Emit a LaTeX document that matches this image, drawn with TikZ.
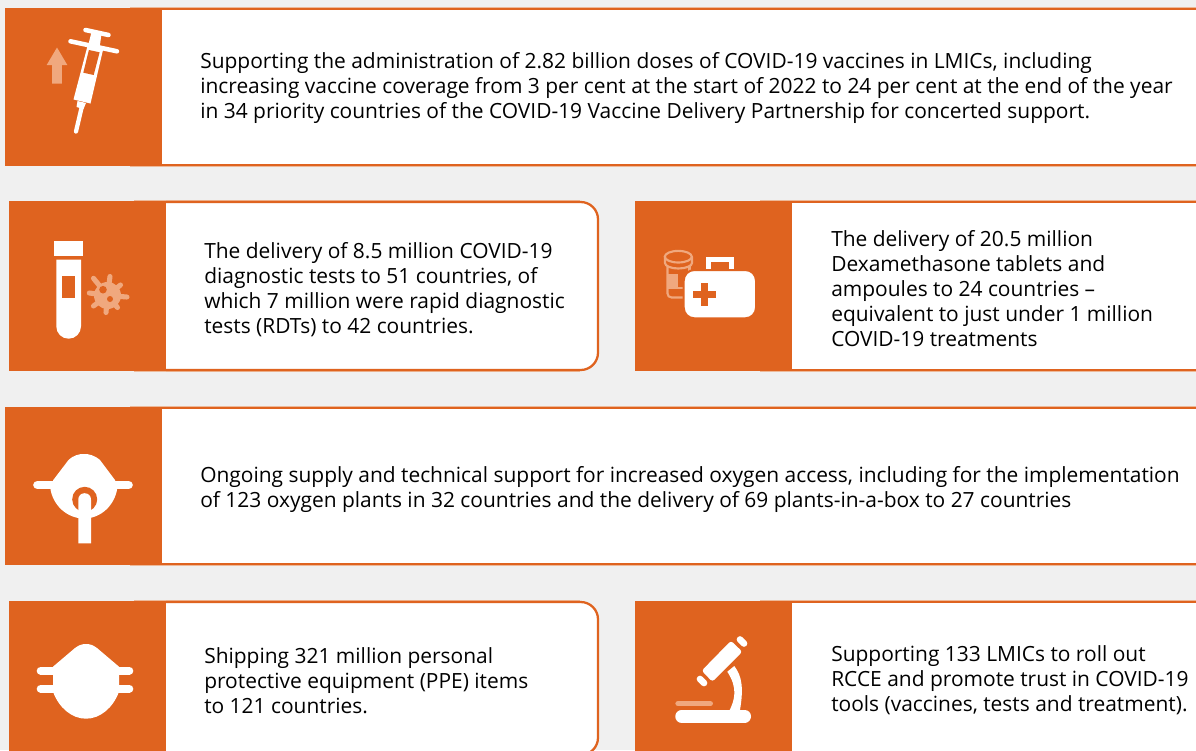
\documentclass[tikz,border=0pt]{standalone}
\usepackage{fontspec}
\setmainfont{Open Sans}
\definecolor{bg}{HTML}{F0F0F0}
\definecolor{org}{HTML}{DF631F}
\definecolor{lorg}{HTML}{F0A87E}
\definecolor{sha}{HTML}{EDB999}
\tikzset{
  cardtext/.style={anchor=west,align=left,inner sep=0pt,text=black,font=\fontsize{15.7}{18.75}\selectfont},
  whiteline/.style={draw=white,line cap=round},
  lightline/.style={draw=lorg,line cap=round},
}
\newcommand{\cardopen}[3]{% left square x, top, bottom
  \pgfmathsetmacro{\xa}{#1+125}\pgfmathsetmacro{\xb}{#1+157}
  \draw[sha,line width=1.3pt] (\xa,#2-0.6)--(1200,#2-0.6) (\xa,#3+0.6)--(1200,#3+0.6);
  \fill[white] (\xb,#2+1) rectangle (1200,#3-1);
  \draw[org,line width=1.6pt] (\xb,#2+1)--(1200,#2+1) (\xb,#3-1)--(1200,#3-1);
  \fill[org] (#1,#2) rectangle (\xb,#3);
}
\newcommand{\cardround}[4]{% left, top, bottom of frame, bottom of square
  \pgfmathsetmacro{\xa}{#1+125}\pgfmathsetmacro{\xb}{#1+157}
  \draw[sha,line width=1.3pt] (\xa,#2-0.6)--(580,#2-0.6);
  \draw[sha,line width=1.3pt] (\xa,#3+0.6)--(580,#3+0.6);
  \draw[org,line width=1.7pt,fill=white,rounded corners=13pt] (\xb,#2+1) -- (598,#2+1) -- (598,#3-1) -- (\xb,#3-1);
  \fill[org] (#1,#2) rectangle (\xb,#4);
}
\begin{document}
\begin{tikzpicture}[x=0.75pt,y=-0.75pt]
\useasboundingbox (0,0) rectangle (1196,750);
\clip (0,0) rectangle (1196,750);
\fill[bg] (0,0) rectangle (1196,750);

\cardopen{5}{8}{166}
\cardround{9}{201}{371}{371}
\cardopen{635}{201}{371}
\cardopen{5}{407}{565}
\cardround{9}{601}{756}{771}
\cardopen{635}{601}{771}

% syringe
\fill[lorg] (57,47.5)--(67.3,65)--(61.8,65)--(61.8,83.5)--(52,83.5)--(52,65)--(46.7,65)--cycle;
\draw[whiteline,line width=3.4pt] (85.5,30)--(108.5,35);
\draw[whiteline,line width=3.4pt] (70.5,41.3)--(117,51.3);
\fill[white] (91.5,32)--(101.5,34)--(99.5,48)--(88,46)--cycle;
\fill[white] (87.5,46)--(103,50)--(90.5,103.5)--(73.5,99.5)--cycle;
\fill[org] (88.9,50)--(99.6,52.3)--(93.7,75)--(83.3,72.7)--cycle;
\fill[white] (77.5,101)--(86,103)--(83.5,109)--(76.5,107)--cycle;
\draw[whiteline,line width=3.2pt] (81.5,108)--(76,131.5);

% tube + virus
\fill[white] (54,241) rectangle (83,256);
\fill[white] (56.3,259.7)--(81,259.7)--(81,326.3) .. controls (81,333.3) and (75.5,338.7) .. (68.65,338.7) .. controls (61.8,338.7) and (56.3,333.3) .. (56.3,326.3) --cycle;
\fill[org] (62.3,276) rectangle (74.7,298.3);
\fill[lorg] (107.5,295.5) circle[radius=13.5];
\draw[lightline,line width=3.8pt] (107.5,295.5)--(93.5,278.3) (107.5,295.5)--(110,276.5) (107.5,295.5)--(120.5,285) (107.5,295.5)--(127,297) (107.5,295.5)--(117.5,307.5) (107.5,295.5)--(106,312.5) (107.5,295.5)--(93.5,306) (107.5,295.5)--(89.3,293);
\fill[org] (103,289.7) circle[radius=3.8] (110,299) circle[radius=3];

% medicine
\draw[lorg,line width=1.6pt] (678.3,256.7) ellipse[x radius=13.5,y radius=5.8];
\draw[lorg,line width=1.6pt] (665,256.7)--(665,263) .. controls (665,266) and (671,268.5) .. (678.3,268.5) .. controls (685.6,268.5) and (692,266) .. (692,263) -- (692,256.7);
\draw[lorg,line width=1.6pt,rounded corners=3pt] (667.5,266)--(667.5,297.5)--(690,297.5);
\draw[lorg,line width=1.6pt] (689.5,266)--(689.5,272);
\fill[lorg] (668,273.5) rectangle (678,288);
\draw[lorg,line width=1.6pt] (667.5,288)--(684,288);
\fill[white] (706,257.3) rectangle (734,275);
\fill[org] (711,262.3) rectangle (728.7,275);
\draw[org,line width=1.5pt,fill=white,rounded corners=8pt] (683.7,270) rectangle (756,318.3);
\fill[org] (693.2,290.9) rectangle (716.2,297.7);
\fill[org] (701.3,282.8) rectangle (708.1,305.8);

% oxygen mask
\draw[whiteline,line width=6.5pt] (37.5,485)--(128.5,485);
\fill[white] (53.3,480) -- (68.5,460) .. controls (74,455) and (79,454) .. (84,454) .. controls (89,454) and (94,455) .. (100,460) -- (115,480) -- (117.3,488) .. controls (115,505) and (101,518.5) .. (84,518.5) .. controls (67,518.5) and (52.5,505) .. (50.3,488) -- cycle;
\fill[org] (84.7,499.3) circle[radius=12.5];
\fill[white] (78.3,543.3)--(78.3,499.5) .. controls (78.3,495.8) and (81,493.2) .. (84.65,493.2) .. controls (88.3,493.2) and (91,495.8) .. (91,499.5) --(91,543.3)--cycle;

% PPE mask
\draw[whiteline,line width=6pt] (40.7,670.7)--(129.3,670.7) (40.7,688.7)--(129.3,688.7);
\fill[org] (36,675.2) rectangle (134,684.2);
\fill[white] (53,666.7) -- (75,648) .. controls (79,645) and (82,644) .. (86,644) .. controls (90,644) and (93,645) .. (97,648) -- (119,666.7) -- (119,691.7) .. controls (113,708) and (100,718.7) .. (86,718.7) .. controls (72,718.7) and (59,708) .. (53,691.7) -- cycle;

% microscope
\draw[whiteline,line width=9.5pt] (681.6,716.3)--(744.7,716.3);
\draw[lightline,line width=4pt] (678,703.7)--(710.3,703.7);
\draw[whiteline,line width=5pt] (740,639.5)--(744,643.5);
\draw[whiteline,line width=5pt] (700,679)--(704,683);
\fill[white,rounded corners=2pt] (731,640.7)--(742.3,651.7)--(712.3,681.7)--(701.7,670.7)--cycle;
\fill[white] (734.3,666) .. controls (742,676) and (743.7,688) .. (740,710) -- (728.7,712) .. controls (735,700) and (738,688) .. (727.3,671.7) -- cycle;

% texts
\node[cardtext] (t1) at (200,88) {Supporting the administration of 2.82 billion doses of COVID-19 vaccines in LMICs, including\\increasing vaccine coverage from 3 per cent at the start of 2022 to 24 per cent at the end of the year\\in 34 priority countries of the COVID-19 Vaccine Delivery Partnership for concerted support.};
\node[cardtext] (t2) at (204,290) {The delivery of 8.5 million COVID-19\\diagnostic tests to 51 countries, of\\which 7 million were rapid diagnostic\\tests (RDTs) to 42 countries.};
\node[cardtext] (t3) at (831,289) {The delivery of 20.5 million\\Dexamethasone tablets and\\ampoules to 24 countries --\\equivalent to just under 1 million\\COVID-19 treatments};
\node[cardtext] (t4) at (200,489.5) {Ongoing supply and technical support for increased oxygen access, including for the implementation\\of 123 oxygen plants in 32 countries and the delivery of 69 plants-in-a-box to 27 countries};
\node[cardtext] (t5) at (204,680.5) {Shipping 321 million personal\\protective equipment (PPE) items\\to 121 countries.};
\node[cardtext] (t6) at (831,680) {Supporting 133 LMICs to roll out\\RCCE and promote trust in COVID-19\\tools (vaccines, tests and treatment).};
\end{tikzpicture}
\end{document}
